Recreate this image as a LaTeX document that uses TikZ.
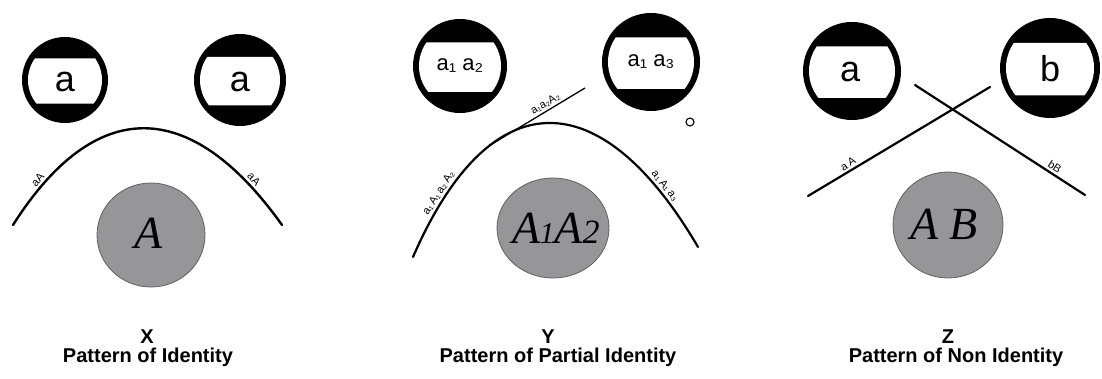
\documentclass[tikz,border=0pt]{standalone}
\usepackage{fontspec}
\setmainfont{Liberation Sans}
\newfontfamily\serifit{Liberation Serif}[ItalicFont={Liberation Serif Italic}]
\usetikzlibrary{calc,positioning,shapes.geometric}
\definecolor{DiscGray}{RGB}{150,150,152}
\definecolor{DiscEdge}{RGB}{95,95,98}

% black ring with a white window, #1 centre, #2 radius (pt)
\newcommand{\headring}[2]{%
  \fill (#1) circle (#2pt);
  \begin{scope}
    \clip (#1) circle ({#2pt-6pt});
    \fill[white, rounded corners=9pt] ($(#1)+(-#2,-0.5*#2)$) rectangle ($(#1)+(#2,0.55*#2)$);
  \end{scope}}
\newcommand{\tsp}{\kern2.2pt}

\begin{document}
\begin{tikzpicture}[x=1pt, y=-1pt,
	disc/.style={ellipse, draw=DiscEdge, line width=0.8pt, fill=DiscGray, inner sep=0pt},
	ringtxt/.style={font=\fontsize{36}{36}\selectfont},
	smalltxt/.style={font=\fontsize{22}{22}\selectfont},
	bigit/.style={font=\serifit\itshape\fontsize{46}{46}\selectfont},
	lbl/.style={font=\fontsize{11}{11}\selectfont, sloped, above, inner sep=2pt},
	arc/.style={line width=2.4pt, line cap=round},
	pattitle/.style={font=\bfseries\fontsize{20}{20}\selectfont, anchor=base}]
	\useasboundingbox (0,0) rectangle (1102,379);

	% X : identity
	\coordinate (xl) at (65,80);
	\coordinate (xr) at (240,80);
	\headring{xl}{43}
	\headring{xr}{46}
	\node[ringtxt] (xa1) at ($(xl)+(0,2)$) {a};
	\node[ringtxt] (xa2) at ($(xr)+(0,2)$) {a};
	\coordinate (xs) at (13,225);
	\coordinate (xe) at (282,225);
	\draw[arc] (xs) .. controls (95,96) and (190,96) .. (xe)
		node[lbl, pos=0.12] (xlab1) {aA}
		node[lbl, pos=0.88] (xlab2) {aA};
	\node[disc, minimum width=108pt, minimum height=104pt] (xd) at (151,235) {};
	\node[bigit] (xdt) at (149,233) {A};

	% Y : partial identity
	\coordinate (yl) at (460,66);
	\coordinate (yr) at (651,62);
	\headring{yl}{47}
	\headring{yr}{49}
	\node[smalltxt] (ya1) at ($(yl)+(0,0)$) {a₁ a₂};
	\node[smalltxt] (ya2) at ($(yr)+(0,0)$) {a₁ a₃};
	\coordinate (ys) at (413,257);
	\coordinate (ye) at (698,247);
	\draw[arc, line width=2.2pt] (ys) .. controls (490,80) and (600,80) .. (ye)
		node[lbl, pos=0.13] (ylab1) {a₁\tsp A₁\tsp a₂\tsp A₂}
		node[lbl, pos=0.87] (ylab2) {a₁\tsp A₁\tsp a₃}
		coordinate[pos=0.3] (ytan);
	\coordinate (yend) at (585,88);
	\draw[line width=1.3pt] (ytan) -- (yend)
		node[lbl, pos=0.62] (ylab3) {a₁a₂A₂};
	\node[circle, draw, line width=1.1pt, minimum size=8pt, inner sep=0pt] (ydot) at (690,122) {};
	\node[disc, minimum width=112pt, minimum height=100pt] (yd) at (553,228) {};
	\node[bigit] (ydt) at (556,228) {A\kern-1pt{\fontsize{30}{30}\selectfont 1}A{\fontsize{34}{34}\selectfont 2}};

	% Z : non identity
	\coordinate (zl) at (852,71);
	\coordinate (zr) at (1050,68);
	\headring{zl}{49}
	\headring{zr}{50}
	\node[ringtxt] (za) at ($(zl)+(-2,1)$) {a};
	\node[ringtxt] (zb) at ($(zr)+(0,1)$) {b};
	\coordinate (za1) at (808,196);
	\coordinate (za2) at (990,87);
	\coordinate (zb1) at (915,85);
	\coordinate (zb2) at (1085,195);
	\draw[arc, line width=2.2pt] (za1) -- (za2) node[lbl, pos=0.24] (zlab1) {a\tsp A};
	\draw[arc, line width=2.2pt] (zb1) -- (zb2) node[lbl, pos=0.8] (zlab2) {bB};
	\node[disc, minimum width=110pt, minimum height=106pt] (zd) at (948,225) {};
	\node[bigit] (zdt) at (944,224) {A\hspace{10pt}B};

	% captions
	\node[pattitle] (xc) at (147,343) {X};
	\node[pattitle] (xt) at (148,362) {Pattern of Identity};
	\node[pattitle] (yc) at (548,343) {Y};
	\node[pattitle] (yt) at (558,362) {Pattern of Partial Identity};
	\node[pattitle] (zc) at (948,343) {Z};
	\node[pattitle] (zt) at (956,362) {Pattern of Non Identity};
\end{tikzpicture}
\end{document}
